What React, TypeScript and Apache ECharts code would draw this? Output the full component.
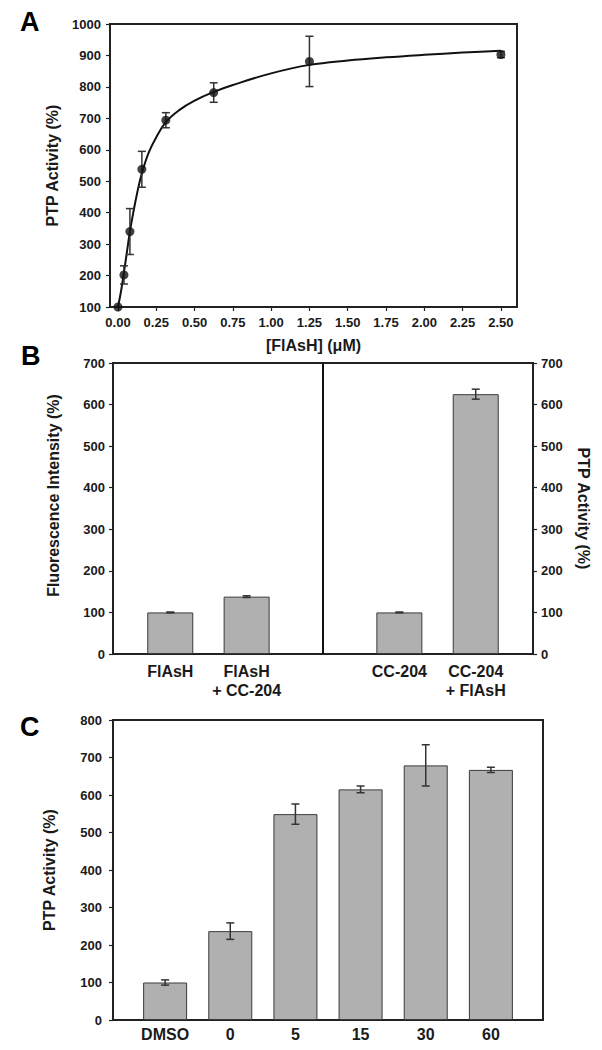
import React, { useEffect, useRef } from "react";
import * as echarts from "echarts";

// Panel A: PTP activity vs [FlAsH]
const concA = [0, 0.039, 0.078, 0.156, 0.3125, 0.625, 1.25, 2.5];
const activityA = [100, 202, 340, 538, 694, 782, 881, 903];
const errA = [0, 29, 73, 57, 24, 31, 80, 10];
const xTicksA = [0, 0.25, 0.5, 0.75, 1.0, 1.25, 1.5, 1.75, 2.0, 2.25, 2.5];
// fitted curve
const fitX = [0, 0.02, 0.039, 0.06, 0.078, 0.1, 0.125, 0.156, 0.2, 0.25, 0.3125, 0.4, 0.5, 0.625, 0.75, 1.0, 1.25, 1.5, 1.75, 2.0, 2.25, 2.5];
const fitY = [100, 150, 210, 280, 340, 400, 462, 525, 590, 640, 688, 726, 756, 784, 806, 843, 870, 884, 894, 902, 909, 915];

// Panel B
const catB = ["FlAsH", "FlAsH\n+ CC-204", "CC-204", "CC-204\n+ FlAsH"];
const posB = [1, 2, 4, 5];
const valB = [100, 138, 100, 625];
const errB = [1, 2, 1, 12];

// Panel C
const catC = ["DMSO", "0", "5", "15", "30", "60"];
const valC = [100, 237, 549, 615, 679, 667];
const errC = [7, 22, 27, 9, 55, 7];

const FONT = "'Liberation Sans', Arial, Helvetica, sans-serif";
const INK = "#1a1a1a";
const AXIS = "#222";
const BAR = "#b0b0b0";

const errRender = (cap: number) => (params: any, api: any) => {
  const x = api.value(0);
  const lo = api.value(1);
  const hi = api.value(2);
  const a = api.coord([x, hi]);
  const b = api.coord([x, lo]);
  const style = { stroke: "#333", lineWidth: 1.5 };
  return {
    type: "group",
    children: [
      { type: "line", shape: { x1: a[0], y1: a[1], x2: b[0], y2: b[1] }, style },
      { type: "line", shape: { x1: a[0] - cap, y1: a[1], x2: a[0] + cap, y2: a[1] }, style },
      { type: "line", shape: { x1: b[0] - cap, y1: b[1], x2: b[0] + cap, y2: b[1] }, style },
    ],
  };
};

const axisLine = { show: true, onZero: false, lineStyle: { color: AXIS, width: 2 } };
const tickLbl = { color: INK, fontFamily: FONT, fontWeight: "bold" as const, fontSize: 13, formatter: (v: number) => String(v) };
const nameStyle = { color: INK, fontFamily: FONT, fontWeight: "bold" as const, fontSize: 16 };
const catLbl = { color: INK, fontFamily: FONT, fontWeight: "bold" as const, fontSize: 16, lineHeight: 19 };
const yTick = { show: true, length: 4, lineStyle: { color: AXIS, width: 1.2 } };

export default function App() {
  const ref = useRef<HTMLDivElement>(null);
  useEffect(() => {
    if (!ref.current) return;
    const chart = echarts.init(ref.current, undefined, { renderer: "svg" });
    const option: any = {
      animation: false,
      backgroundColor: "#fff",
      grid: [
        { left: 110, top: 24, width: 407, height: 283, show: true, borderColor: AXIS, borderWidth: 2, backgroundColor: "transparent" },
        { left: 113, top: 363, width: 420, height: 291, show: true, borderColor: AXIS, borderWidth: 2, backgroundColor: "transparent" },
        { left: 113, top: 720, width: 430, height: 300, show: true, borderColor: AXIS, borderWidth: 2, backgroundColor: "transparent" },
      ],
      xAxis: [
        {
          gridIndex: 0, type: "value", min: -0.052, max: 2.605,
          axisLine, splitLine: { show: false },
          axisTick: { ...yTick, customValues: xTicksA },
          axisLabel: { ...tickLbl, margin: 9, customValues: xTicksA, formatter: (v: number) => v.toFixed(2) },
          name: "[FlAsH] (\u03bcM)", nameLocation: "middle", nameGap: 30, nameTextStyle: nameStyle,
        },
        {
          gridIndex: 1, type: "value", min: 0.25, max: 5.75,
          axisLine, splitLine: { show: false }, axisTick: { show: false },
          axisLabel: {
            ...catLbl, margin: 8, customValues: posB,
            formatter: (v: number) => catB[posB.indexOf(Math.round(v))] ?? "",
          },
        },
        {
          gridIndex: 2, type: "value", min: -0.8, max: 5.8,
          axisLine, splitLine: { show: false }, axisTick: { show: false },
          axisLabel: {
            ...catLbl, margin: 5, customValues: [0, 1, 2, 3, 4, 5],
            formatter: (v: number) => catC[Math.round(v)] ?? "",
          },
        },
      ],
      yAxis: [
        {
          gridIndex: 0, type: "value", min: 100, max: 1000, interval: 100,
          axisLine, splitLine: { show: false }, axisTick: yTick,
          axisLabel: { ...tickLbl, margin: 9 },
          name: "PTP Activity (%)", nameLocation: "middle", nameGap: 50, nameRotate: 90, nameTextStyle: nameStyle,
        },
        {
          gridIndex: 1, type: "value", min: 0, max: 700, interval: 100, position: "left",
          axisLine, splitLine: { show: false }, axisTick: yTick,
          axisLabel: { ...tickLbl, margin: 8 },
          name: "Fluorescence Intensity (%)", nameLocation: "middle", nameGap: 52, nameRotate: 90,
          nameTextStyle: { ...nameStyle, padding: [0, 0, 0, 26] },
        },
        {
          gridIndex: 1, type: "value", min: 0, max: 700, interval: 100, position: "right",
          axisLine, splitLine: { show: false }, axisTick: yTick,
          axisLabel: { ...tickLbl, margin: 8 },
          name: "PTP Activity (%)", nameLocation: "middle", nameGap: 42, nameRotate: -90, nameTextStyle: nameStyle,
        },
        {
          gridIndex: 2, type: "value", min: 0, max: 800, interval: 100,
          axisLine, splitLine: { show: false }, axisTick: yTick,
          axisLabel: { ...tickLbl, margin: 11 },
          name: "PTP Activity (%)", nameLocation: "middle", nameGap: 56, nameRotate: 90, nameTextStyle: nameStyle,
        },
      ],
      series: [
        // Panel A
        {
          type: "line", xAxisIndex: 0, yAxisIndex: 0, smooth: 0.4, showSymbol: false, symbol: "none",
          lineStyle: { color: "#111", width: 2 },
          data: fitX.map((x, i) => [x, fitY[i]]), z: 2,
        },
        {
          type: "custom", xAxisIndex: 0, yAxisIndex: 0, renderItem: errRender(4),
          data: concA.map((x, i) => [x, activityA[i] - errA[i], activityA[i] + errA[i]]).filter((_, i) => errA[i] > 0),
          z: 3,
        },
        {
          type: "scatter", xAxisIndex: 0, yAxisIndex: 0, symbol: "circle", symbolSize: 9,
          itemStyle: { color: "#111" },
          data: concA.map((x, i) => [x, activityA[i]]), z: 4,
        },
        // Panel B (both y axes share the 0–700 scale)
        {
          type: "bar", xAxisIndex: 1, yAxisIndex: 1, barWidth: 46,
          itemStyle: { color: BAR, borderColor: "#3a3a3a", borderWidth: 1 },
          data: posB.map((x, i) => [x, valB[i]]),
          markLine: {
            silent: true, symbol: "none", label: { show: false },
            lineStyle: { color: "#111", width: 2, type: "solid" },
            data: [{ xAxis: 3 }],
          },
        },
        {
          type: "custom", xAxisIndex: 1, yAxisIndex: 1, renderItem: errRender(4), z: 5,
          data: posB.map((x, i) => [x, valB[i] - errB[i], valB[i] + errB[i]]),
        },
        // Panel C
        {
          type: "bar", xAxisIndex: 2, yAxisIndex: 3, barWidth: 44,
          itemStyle: { color: BAR, borderColor: "#3a3a3a", borderWidth: 1 },
          data: valC.map((v, i) => [i, v]),
        },
        {
          type: "custom", xAxisIndex: 2, yAxisIndex: 3, renderItem: errRender(4), z: 5,
          data: valC.map((v, i) => [i, v - errC[i], v + errC[i]]),
        },
      ],
      graphic: [
        { type: "text", left: 20, top: 8, style: { text: "A", font: `bold 27px ${FONT}`, fill: "#000" } },
        { type: "text", left: 21, top: 342, style: { text: "B", font: `bold 27px ${FONT}`, fill: "#000" } },
        { type: "text", left: 20, top: 713, style: { text: "C", font: `bold 27px ${FONT}`, fill: "#000" } },
      ],
    };
    chart.setOption(option);
    return () => chart.dispose();
  }, []);
  return (
    <div
      ref={ref}
      style={{ position: "absolute", left: 0, top: 0, width: 602, height: 1050, background: "#fff" }}
    />
  );
}
